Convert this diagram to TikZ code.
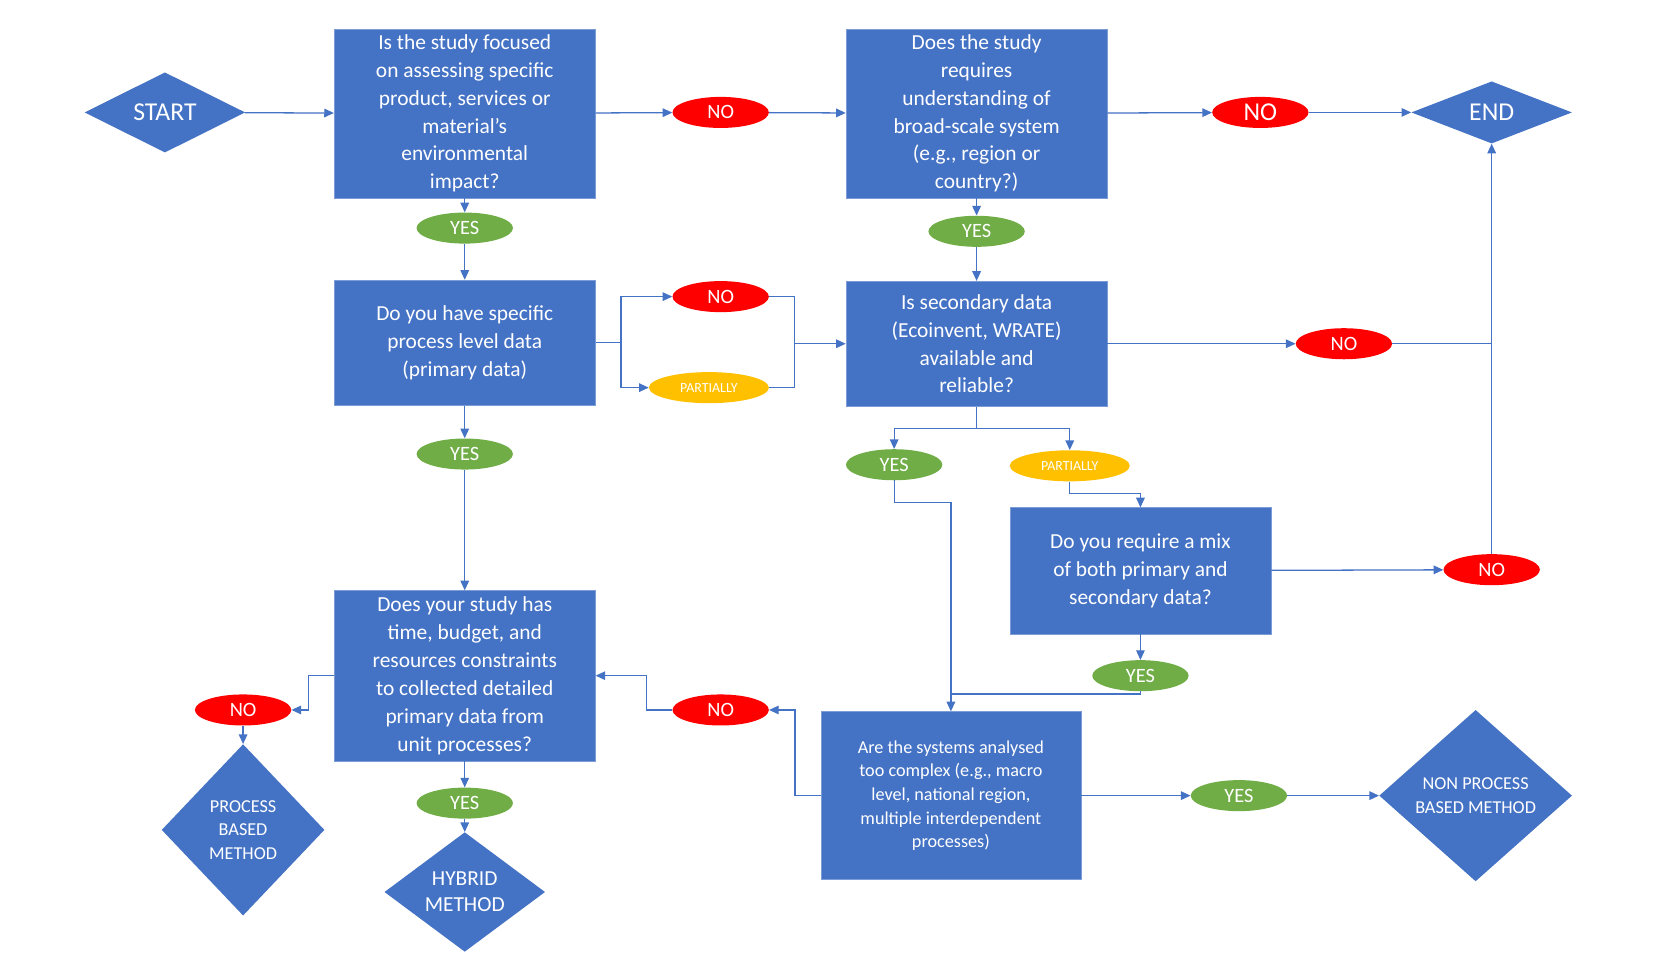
\documentclass[tikz,border=0pt]{standalone}
\usepackage{fontspec}
\setmainfont{Carlito}
\usetikzlibrary{shapes.geometric,arrows.meta}
\definecolor{bl}{HTML}{4472C4}
\definecolor{rd}{HTML}{FF0000}
\definecolor{gr}{HTML}{70AD47}
\definecolor{yl}{HTML}{FFC000}
\begin{document}
\begin{tikzpicture}[x=1pt,y=-1pt,
 box/.style={fill=bl,draw=bl!70!white,text=white,minimum width=244pt,align=center,inner sep=2pt,font=\fontsize{20}{26}\selectfont},
 dia/.style={diamond,fill=bl,text=white,align=center,inner sep=0pt,font=\fontsize{17}{22}\selectfont},
 ov/.style={ellipse,minimum width=90pt,minimum height=29pt,inner sep=0pt,text=white,font=\fontsize{19}{22}\selectfont},
 no/.style={ov,fill=rd},yes/.style={ov,fill=gr},
 part/.style={ov,fill=yl,minimum width=112pt,font=\fontsize{13}{15}\selectfont},
 ar/.style={draw=bl,line width=1.2pt,-{Triangle[width=8pt,length=9pt]}},
 ln/.style={draw=bl,line width=1.2pt}]
\useasboundingbox (0,0) rectangle (1567,890);
\node[dia,minimum width=150pt,minimum height=58pt,font=\fontsize{24}{26}\selectfont] (start) at (154,105) {START};
\node[box,minimum height=158pt] (b1) at (434,106) {Is the study focused\\on assessing specific\\product, services or\\material’s\\environmental\\impact?};
\node[no] (n1) at (673,105) {NO};
\node[box,minimum height=158pt] (b2) at (912,106) {Does the study\\requires\\understanding of\\broad-scale system\\(e.g., region or\\country?)};
\node[no,font=\fontsize{24}{26}\selectfont] (n2) at (1177,105) {NO};
\node[dia,minimum width=150pt,minimum height=58pt,font=\fontsize{24}{26}\selectfont] (end) at (1393,105) {END};
\node[yes] (y1) at (434,213) {YES};
\node[box,minimum height=117pt] (b3) at (434,320) {Do you have specific\\process level data\\(primary data)};
\node[no] (n3) at (673,277) {NO};
\node[part] (p1) at (662,362) {PARTIALLY};
\node[yes] (y2) at (912,216) {YES};
\node[box,minimum height=117pt] (b4) at (912,321) {Is secondary data\\(Ecoinvent, WRATE)\\available and\\reliable?};
\node[no] (n4) at (1255,321) {NO};
\node[yes] (y3) at (434,424) {YES};
\node[yes] (y4) at (835,434) {YES};
\node[part] (p2) at (999,435) {PARTIALLY};
\node[box,minimum height=118pt] (b5) at (1065,533) {Do you require a mix\\of both primary and\\secondary data?};
\node[no] (n5) at (1393,532) {NO};
\node[yes] (y5) at (1065,631) {YES};
\node[box,minimum height=159pt] (b6) at (434,631) {Does your study has\\time, budget, and\\resources constraints\\to collected detailed\\primary data from\\unit processes?};
\node[no] (n6) at (227,663) {NO};
\node[dia,minimum width=152pt,minimum height=160pt] (pb) at (227,775) {PROCESS\\BASED\\METHOD};
\node[yes] (y6) at (434,750) {YES};
\node[dia,minimum width=150pt,minimum height=84pt,font=\fontsize{20}{24}\selectfont] (hy) at (434,833) {HYBRID\\METHOD};
\node[no] (n7) at (673,663) {NO};
\node[box,minimum width=243pt,minimum height=157pt,font=\fontsize{17}{22}\selectfont] (b7) at (888,743) {Are the systems analysed\\too complex (e.g., macro\\level, national region,\\multiple interdependent\\processes)};
\node[yes] (y7) at (1157,743) {YES};
\node[dia,minimum width=180pt,minimum height=160pt] (np) at (1378,743) {NON PROCESS\\BASED METHOD};
\coordinate (c1) at (580,320); \coordinate (c2) at (742,321);
\coordinate (c3) at (912,400); \coordinate (c4) at (835,469);
\coordinate (c5) at (888,648); \coordinate (c6) at (999,461);
\path[ar] (start) -- (b1);
\path[ar] (b1) -- (n1); \path[ar] (n1) -- (b2);
\path[ar] (b2) -- (n2); \path[ar] (n2) -- (end);
\path[ar] (b1) -- (y1); \path[ar] (y1) -- (b3);
\path[ar] (b2) -- (y2); \path[ar] (y2) -- (b4);
\path[ln] (b3.east) -- (c1);
\path[ar] (c1) |- (n3); \path[ar] (c1) |- (p1);
\path[ln] (n3.east) -| (c2); \path[ln] (p1.east) -| (c2);
\path[ar] (c2) -- (b4.west);
\path[ar] (b4) -- (n4);
\path[ln] (n4.east) -- (1393,321);
\path[ar] (n5) -- (end);
\path[ln] (b4.south) -- (c3);
\path[ar] (c3) -| (y4.north); \path[ar] (c3) -| (p2.north);
\path[ar] (p2.south) |- (c6) -| (b5.north);
\path[ar] (b5) -- (n5);
\path[ar] (b5) -- (y5);
\path[ar] (y4.south) |- (c4) -| (b7.north);
\path[ln] (y5.south) |- (c5);
\path[ar] (b3) -- (y3); \path[ar] (y3) -- (b6);
\path[ar] (b6.west) -- ++(-24,0) |- (n6.east);
\path[ar] (n6) -- (pb);
\path[ar] (b6) -- (y6); \path[ar] (y6) -- (hy);
\path[ar] (b7.west) -- ++(-24,0) |- (n7.east);
\path[ar] (n7.west) -- ++(-24,0) |- (b6.east);
\path[ar] (b7) -- (y7); \path[ar] (y7) -- (np);
\end{tikzpicture}
\end{document}
